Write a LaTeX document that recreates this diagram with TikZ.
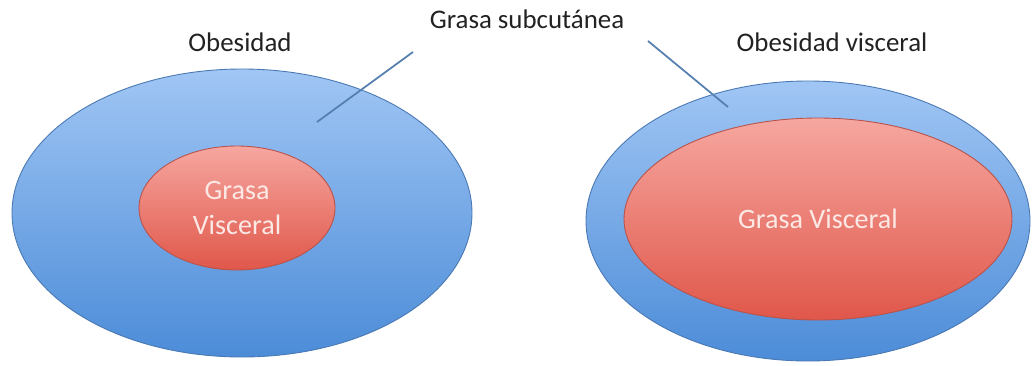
\documentclass[tikz,border=0pt]{standalone}
\usepackage{fontspec}
\setmainfont{Carlito}
\usepackage{tikz}
\usetikzlibrary{shapes.geometric,positioning}
\definecolor{skintop}{HTML}{A0C6F4}
\definecolor{skinbot}{HTML}{4C8CD8}
\definecolor{skinedge}{HTML}{4A78B2}
\definecolor{fattop}{HTML}{F6A7A0}
\definecolor{fatbot}{HTML}{E0574A}
\definecolor{fatedge}{HTML}{B8524A}
\definecolor{fattext}{HTML}{FCE9E6}
\definecolor{leadblue}{HTML}{557FAE}
\definecolor{lbltext}{HTML}{222222}

\begin{document}
\begin{tikzpicture}[
      outer/.style={ellipse, draw=skinedge, line width=0.5pt,
                    top color=skintop, bottom color=skinbot},
      inner/.style={ellipse, draw=fatedge, line width=0.5pt,
                    top color=fattop, bottom color=fatbot,
                    text=fattext, align=center,
                    font=\fontsize{16}{20}\selectfont},
      lbl/.style={text=lbltext, font=\fontsize{15.3}{18}\selectfont},
      lead/.style={leadblue, line width=1pt}
  ]
    \useasboundingbox (0,0) rectangle (20.72,-7.3);
    % obesidad
    \node[outer, minimum width=9.2cm, minimum height=5.76cm] (lout) at (4.84,-4.26) {};
    \node[inner, minimum width=3.92cm, minimum height=2.48cm] (lin)
        at ([xshift=-0.1cm, yshift=0.1cm]lout.center) {Grasa\\ Visceral};
    % obesidad visceral
    \node[outer, minimum width=8.88cm, minimum height=5.6cm] (rout) at (16.16,-4.42) {};
    \node[inner, minimum width=7.76cm, minimum height=4.04cm] (rin)
        at ([xshift=0.2cm, yshift=0.04cm]rout.center) {Grasa Visceral};
    % labels
    \node[lbl] (lobes) at (4.8,-0.84) {Obesidad};
    \node[lbl] (robes) at (16.64,-0.84) {Obesidad visceral};
    \node[lbl] (subc) at (10.54,-0.38) {Grasa subcutánea};
    \coordinate (lstart) at (8.26,-1.04);
    \coordinate (lend) at (6.34,-2.44);
    \coordinate (rstart) at (12.96,-0.82);
    \coordinate (rend) at (14.56,-2.14);
    \draw[lead] (lstart) -- (lend);
    \draw[lead] (rstart) -- (rend);
\end{tikzpicture}
\end{document}
